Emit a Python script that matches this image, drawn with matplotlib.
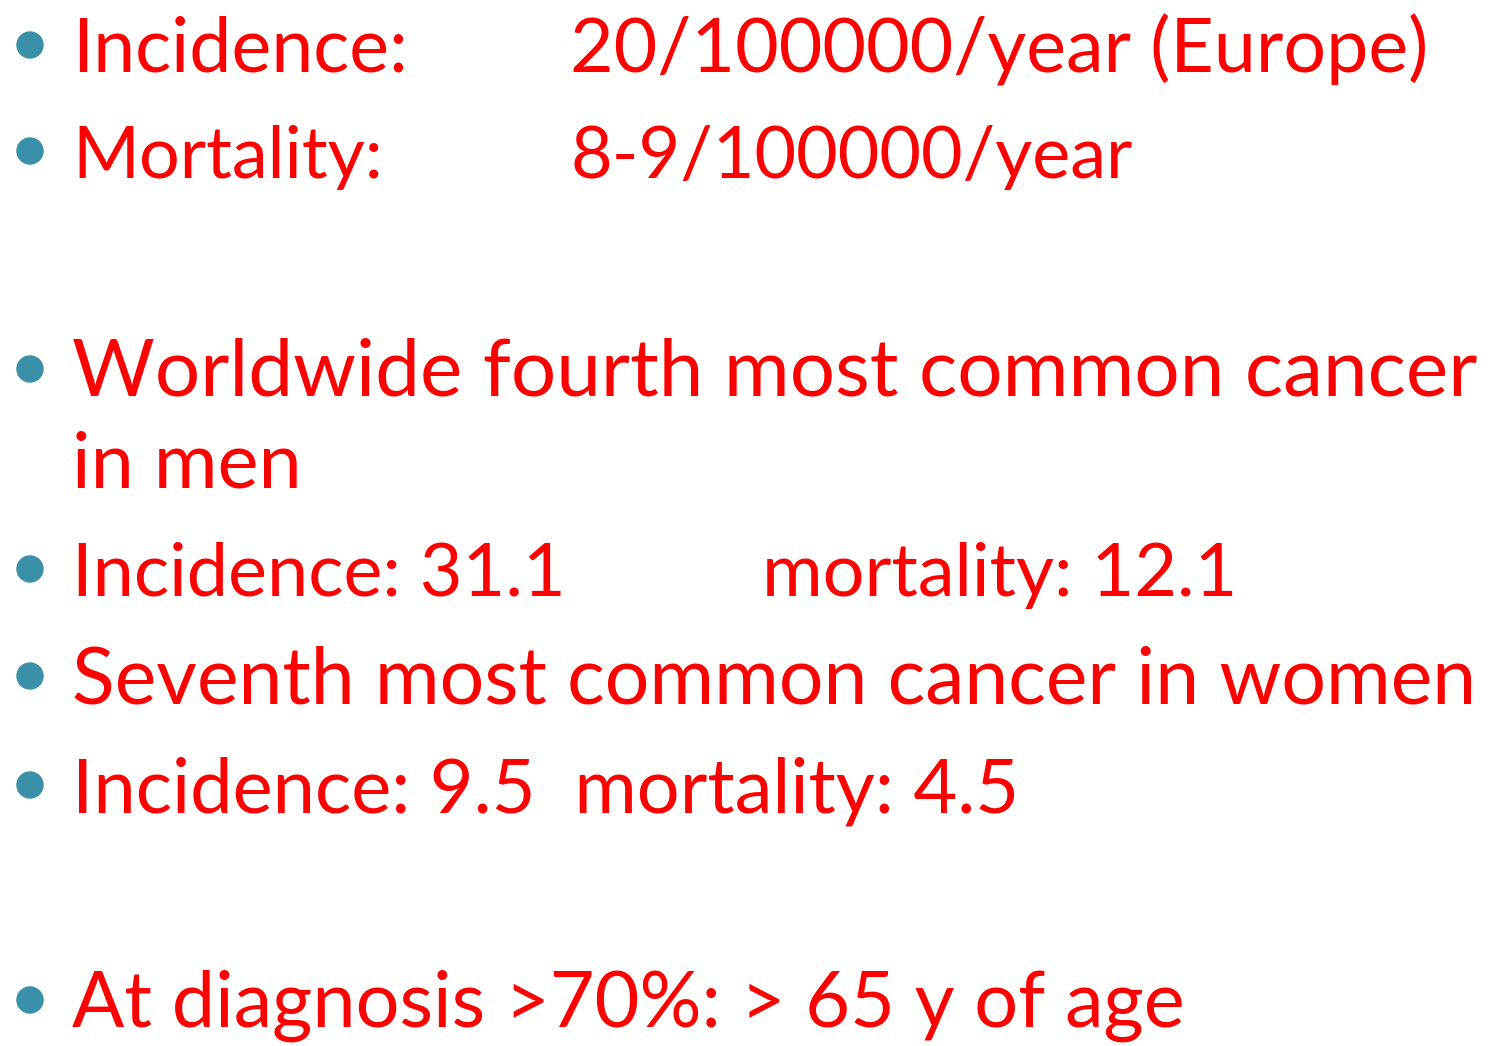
import matplotlib.pyplot as plt
from matplotlib.patches import Circle

# slide content: left text, optional right-column text
left_texts = ["Incidence:", "Mortality:", "Worldwide fourth most common cancer",
              "in men", "Incidence: 31.1", "Seventh most common cancer in women",
              "Incidence: 9.5  mortality: 4.5", "At diagnosis >70%: > 65 y of age"]
right_texts = ["20/100000/year (Europe)", "8-9/100000/year", "", "",
               "mortality: 12.1", "", "", ""]
has_bullet = [True, True, True, False, True, True, True, True]

# layout (pixels): baselines, right column x, right edges seen in the slide
baselines = [72, 178, 396, 488, 596, 703, 812, 1027]
right_x = [570, 570, 0, 0, 762, 0, 0, 0]
left_end = [412, 405, 1478, 302, 566, 1480, 1020, 1187]
right_end = [1430, 1133, 0, 0, 1245, 0, 0, 0]
text_x = 72
bullet_x = 30

RED = "#ff0000"
TEAL = "#3a90a8"
FS = 60
FONT = "Lato"

fig = plt.figure(figsize=(15.01, 10.46), dpi=100)
ax = fig.add_axes([0, 0, 1, 1])
ax.set_xlim(0, 1501)
ax.set_ylim(1046, 0)
ax.axis("off")
renderer = fig.canvas.get_renderer()

def width_px(t):
  return t.get_window_extent(renderer).width

for i, yb in enumerate(baselines):
  if has_bullet[i]:
    ax.add_patch(Circle((bullet_x, yb - 27), 13, color=TEAL))
  lt = ax.text(text_x, yb, left_texts[i], color=RED, fontsize=FS, family=FONT,
               va="baseline", ha="left")
  fits = [(left_end[i] - text_x) / width_px(lt)]
  rt = None
  if right_texts[i]:
    rt = ax.text(right_x[i], yb, right_texts[i], color=RED, fontsize=FS, family=FONT,
                 va="baseline", ha="left")
    fits.append((right_end[i] - right_x[i]) / width_px(rt))
  size = FS * min(1.0, min(fits))
  lt.set_fontsize(size)
  if rt is not None:
    rt.set_fontsize(size)

fig.savefig("out.png", dpi=100)
